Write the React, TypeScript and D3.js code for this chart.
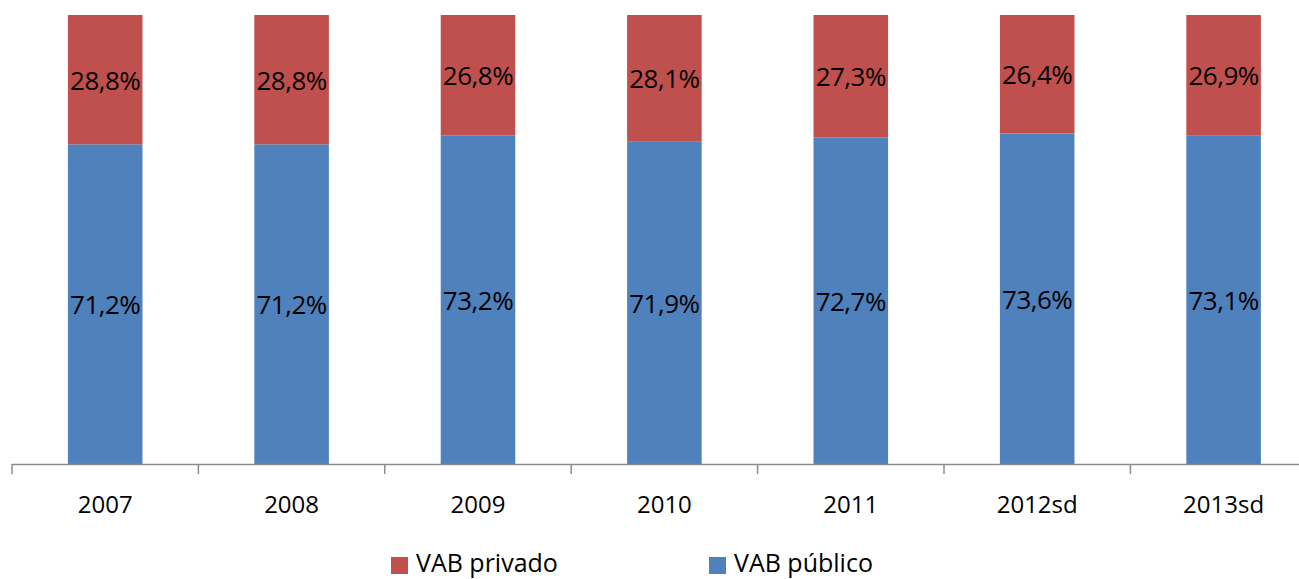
import React from "react";
import * as d3 from "d3";

const categories = ["2007", "2008", "2009", "2010", "2011", "2012sd", "2013sd"];
const vabPublico = [71.2, 71.2, 73.2, 71.9, 72.7, 73.6, 73.1];
const vabPrivado = [28.8, 28.8, 26.8, 28.1, 27.3, 26.4, 26.9];
const seriesNames = ["VAB privado", "VAB público"];
const colors = ["#C0504D", "#4F81BD"];

const W = 1299;
const H = 579;
const FONT = "'Open Sans', sans-serif";

export default function App() {
  const x = d3
    .scaleBand<string>()
    .domain(categories)
    .range([12, 12 + 186.4 * categories.length])
    .paddingInner(0.6)
    .paddingOuter(0.3);
  const y = d3.scaleLinear().domain([0, 100]).range([464, 15]);
  const fmt = (v: number) => v.toFixed(1).replace(".", ",") + "%";
  const step = x.step();
  const x0 = 12;
  const ticks = d3.range(categories.length + 1).map((i) => x0 + i * step);

  return (
    <svg
      width={W}
      height={H}
      style={{ position: "absolute", left: 0, top: 0, background: "#fff" }}
      fontFamily={FONT}
    >
      {categories.map((c, i) => {
        const bx = x(c)!;
        const bw = x.bandwidth();
        const pub = vabPublico[i];
        const pri = vabPrivado[i];
        return (
          <g key={c}>
            <rect x={bx} y={y(pub)} width={bw} height={y(0) - y(pub)} fill={colors[1]} />
            <rect x={bx} y={y(pub + pri)} width={bw} height={y(pub) - y(pub + pri)} fill={colors[0]} />
            <text
              x={bx + bw / 2}
              y={(y(0) + y(pub)) / 2}
              textAnchor="middle"
              dominantBaseline="central"
              fontSize={26}
              letterSpacing={-0.5}
              fill="#000"
            >
              {fmt(pub)}
            </text>
            <text
              x={bx + bw / 2}
              y={(y(pub) + y(pub + pri)) / 2}
              textAnchor="middle"
              dominantBaseline="central"
              fontSize={26}
              letterSpacing={-0.5}
              fill="#000"
            >
              {fmt(pri)}
            </text>
            <text
              x={bx + bw / 2}
              y={503}
              textAnchor="middle"
              dominantBaseline="central"
              fontSize={24}
              fill="#000"
            >
              {c}
            </text>
          </g>
        );
      })}
      <line x1={x0} x2={x0 + step * categories.length} y1={464.5} y2={464.5} stroke="#8C8C8C" strokeWidth={1.5} />
      {ticks.map((t, i) => (
        <line key={i} x1={t} x2={t} y1={464} y2={474} stroke="#8C8C8C" strokeWidth={1.5} />
      ))}
      {seriesNames.map((s, i) => {
        const lx = [391, 709][i];
        return (
          <g key={s}>
            <rect x={lx} y={557} width={17} height={17} fill={colors[i]} />
            <text x={lx + 25} y={572} fontSize={25} fill="#000">
              {s}
            </text>
          </g>
        );
      })}
    </svg>
  );
}
